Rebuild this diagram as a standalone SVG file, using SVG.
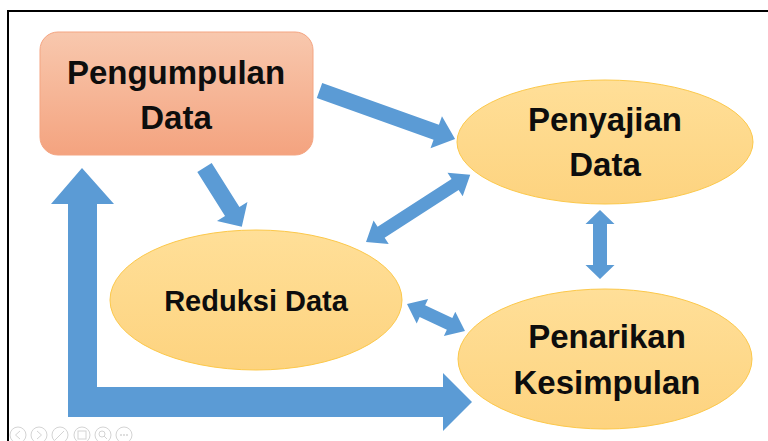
<svg xmlns="http://www.w3.org/2000/svg" width="768" height="441" viewBox="0 0 768 441">
  <defs>
    <linearGradient id="rectFill" x1="0" y1="0" x2="0" y2="1">
      <stop offset="0" stop-color="#f8c8ae"/>
      <stop offset="1" stop-color="#f4a37f"/>
    </linearGradient>
    <linearGradient id="ovalFill" x1="0" y1="0" x2="0" y2="1">
      <stop offset="0" stop-color="#ffdf98"/>
      <stop offset="1" stop-color="#fdd37f"/>
    </linearGradient>
  </defs>
  <style>
    .frame { stroke: #000; stroke-width: 2; fill: none; }
    .box { fill: url(#rectFill); stroke: #f4a582; stroke-width: 1; }
    .oval { fill: url(#ovalFill); stroke: #fcc84a; stroke-width: 1; }
    .label { font-family: "Liberation Sans", Arial, sans-serif; font-weight: bold; fill: #0d0d0d; text-anchor: middle; }
    .arrow { fill: #5b9bd5; stroke: none; }
    .ctl { fill: none; stroke: #d4d4d4; stroke-width: 1; }
    .ctlf { fill: #d4d4d4; }
  </style>

  <rect width="768" height="441" fill="#fff"/>
  <!-- slide frame -->
  <path class="frame" d="M8,441 V11 H768"/>

  <!-- nodes -->
  <g id="pengumpulan">
    <rect class="box" x="40" y="32" width="273" height="123" rx="18" ry="18"/>
    <text class="label" x="176" y="84" font-size="33">Pengumpulan</text>
    <text class="label" x="176" y="129" font-size="33">Data</text>
  </g>
  <g id="penyajian">
    <ellipse class="oval" cx="605" cy="142" rx="148" ry="62"/>
    <text class="label" x="605" y="131" font-size="33">Penyajian</text>
    <text class="label" x="605" y="176" font-size="33">Data</text>
  </g>
  <g id="reduksi">
    <ellipse class="oval" cx="256" cy="300" rx="146" ry="70"/>
    <text class="label" x="256" y="311" font-size="29">Reduksi Data</text>
  </g>
  <g id="penarikan">
    <ellipse class="oval" cx="605" cy="359" rx="147" ry="70"/>
    <text class="label" x="607" y="348" font-size="33">Penarikan</text>
    <text class="label" x="607" y="394" font-size="33">Kesimpulan</text>
  </g>

  <!-- connectors -->
  <g id="connectors">
    <!-- Pengumpulan -> Penyajian -->
    <polygon class="arrow" transform="translate(319.5,90.5) rotate(19.7)" points="0,-8 124,-8 124,-17 144,0 124,17 124,8 0,8"/>
    <!-- Pengumpulan -> Reduksi -->
    <polygon class="arrow" transform="translate(204.5,167.5) rotate(57.8)" points="0,-8.5 52,-8.5 52,-18 70,0 52,18 52,8.5 0,8.5"/>
    <!-- Reduksi <-> Penyajian -->
    <polygon class="arrow" transform="translate(366,242) rotate(-32.8)" points="0,0 18,-14 18,-6.5 106,-6.5 106,-14 124,0 106,14 106,6.5 18,6.5 18,14"/>
    <!-- Penyajian <-> Penarikan -->
    <polygon class="arrow" transform="translate(600,210) rotate(90)" points="0,0 14,-14.5 14,-7 55,-7 55,-14.5 69,0 55,14.5 55,7 14,7 14,14.5"/>
    <!-- Reduksi <-> Penarikan -->
    <polygon class="arrow" transform="translate(407,304) rotate(25)" points="0,0 17,-13.5 17,-6.5 47,-6.5 47,-13.5 64,0 47,13.5 47,6.5 17,6.5 17,13.5"/>
    <!-- Penarikan -> Pengumpulan (feedback loop) -->
    <polygon class="arrow" points="82,168 114,204 97,204 97,387 443,387 443,373 472,402 443,431 443,417 68,417 68,204 51,204"/>
  </g>

  <!-- viewer controls -->
  <g id="controls">
    <circle class="ctl" cx="18" cy="435" r="8"/>
    <path class="ctl" d="M20,431 L15.5,435 L20,439"/>
    <circle class="ctl" cx="39" cy="435" r="8"/>
    <path class="ctl" d="M37,431 L41.5,435 L37,439"/>
    <circle class="ctl" cx="60" cy="435" r="8"/>
    <path class="ctl" d="M55,440 L64,431"/>
    <circle class="ctl" cx="82" cy="435" r="8"/>
    <rect class="ctl" x="78" y="431" width="8" height="8"/>
    <circle class="ctl" cx="103" cy="435" r="8"/>
    <circle class="ctl" cx="102" cy="434" r="3"/>
    <path class="ctl" d="M104,436 L107,439"/>
    <circle class="ctl" cx="124" cy="435" r="8"/>
    <circle class="ctlf" cx="121" cy="435" r="1"/>
    <circle class="ctlf" cx="124" cy="435" r="1"/>
    <circle class="ctlf" cx="127" cy="435" r="1"/>
  </g>
</svg>
